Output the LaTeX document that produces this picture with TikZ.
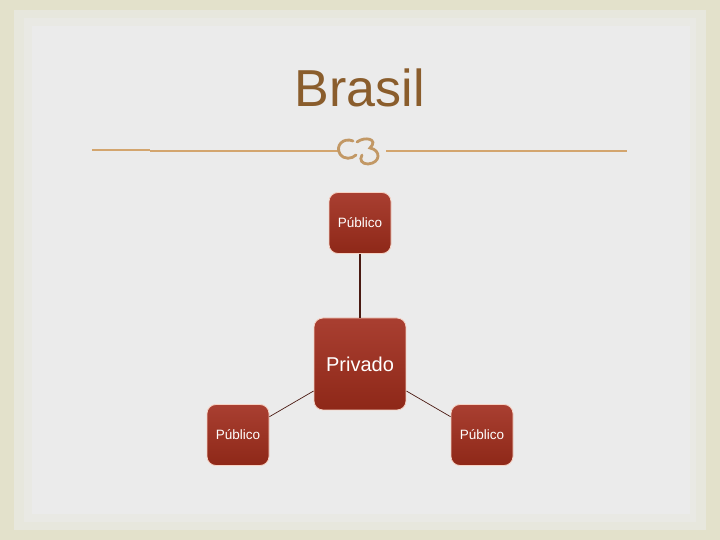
\documentclass[tikz,border=0pt]{standalone}
\usepackage{fontspec}
\setmainfont{Liberation Sans}
\definecolor{frameA}{HTML}{E3E1CB}
\definecolor{paperA}{HTML}{EBEBEB}
\definecolor{titleA}{HTML}{8A5D2C}
\definecolor{ruleA}{HTML}{D3A56E}
\definecolor{redTop}{HTML}{A93F31}
\definecolor{redBot}{HTML}{8E2818}
\definecolor{edgeA}{HTML}{F6D2C4}
\definecolor{linkA}{HTML}{4A1A12}
\tikzset{
  title/.style={font=\fontsize{52}{56}\selectfont, text=titleA},
  redbox/.style={rounded corners=9pt, draw=edgeA, line width=0.8pt, top color=redTop, bottom color=redBot, text=white, inner sep=0pt},
  smallbox/.style={redbox, minimum width=62pt, minimum height=61pt, font=\fontsize{13.5}{15}\selectfont},
  bigbox/.style={redbox, minimum width=92pt, minimum height=92pt, font=\fontsize{20}{22}\selectfont},
  link/.style={draw=linkA, line width=0.7pt},
  rule/.style={draw=ruleA, line width=2pt}
}
\begin{document}
\begin{tikzpicture}[x=1pt,y=1pt]
\useasboundingbox (0,0) rectangle (720,540);
% background
\fill[frameA] (0,0) rectangle (720,540);
\fill[paperA!55!frameA] (14,10) rectangle (706,530);
\fill[paperA!80!frameA] (24,18) rectangle (696,522);
\fill[paperA] (32,26) rectangle (690,514);

\node[title] (title) at (360,452) {Brasil};

% rule with ornament
\draw[rule] (92,389.5) -- (150,389.5);
\draw[rule] (150,389) -- (338,389);
\draw[rule] (386,389) -- (627,389);
\draw[ruleA!92!black, line width=2.8pt, line cap=round]
  (353,399) .. controls (343,403) and (335,394) .. (340,386)
  .. controls (344,380) and (352,381) .. (356,385);
\draw[ruleA!92!black, line width=2.8pt, line cap=round]
  (357,398) .. controls (365,404) and (379,401) .. (370,392)
  .. controls (381,390) and (381,377) .. (368,376)
  .. controls (362,376) and (359,380) .. (362,385);

\node[smallbox] (pubt) at (360,317) {Público};
\node[bigbox] (priv) at (360,176) {Privado};
\node[smallbox] (publ) at (238,105) {Público};
\node[smallbox] (pubr) at (482,105) {Público};

\draw[link, line width=1.3pt] (pubt) -- (priv);
\draw[link] (priv) -- (publ);
\draw[link] (priv) -- (pubr);
\end{tikzpicture}
\end{document}
